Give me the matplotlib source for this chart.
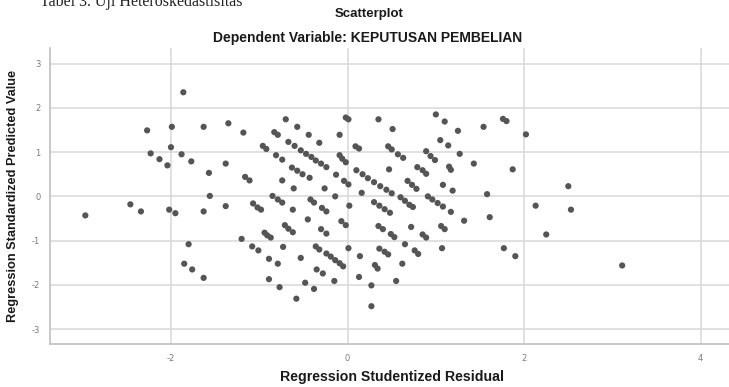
import matplotlib
matplotlib.use("Agg")
import matplotlib.pyplot as plt

plt.rcParams["axes.unicode_minus"] = False

# Regression Studentized Residual (x) and Regression Standardized Predicted Value (y)
residual = [
    -2.97, -2.46, -2.34, -2.27, -2.23, -2.13, -2.04, -2.00, -1.99, -1.88,
    -1.86, -1.77, -1.63, -1.63, -1.63, -1.85, -1.76, -1.80, -1.57, -1.56,
    -1.38, -1.38, -1.35, -1.18, -1.20, -1.16, -1.11, -1.08, -1.01, -2.02,
    -1.95, -1.07, -1.02, -0.98, -0.96, -0.92, -0.83, -0.79, -0.70, -0.57,
    -0.44, -0.32, -0.09, -0.02, 0.01, -0.67, -0.60, -0.81, -0.74,
    -0.53, -0.47, -0.41, -0.36, -0.30, -0.24, -0.09, -0.06, -0.02, 0.09, 0.13,
    -0.63, -0.57, -0.51, -0.43, -0.74, -0.61, -0.26, -0.13, -0.04, 0.01, 0.16,
    -0.85, -0.79, -0.74, -0.62, -0.42, -0.38, -0.29, -0.24, -0.14, 0.02, -0.45,
    -0.07, -0.02, -0.71, -0.67, -0.62, -0.30, -0.24, -0.94, -0.91, -0.87,
    -0.73, -0.36, -0.32, -0.24, -0.19, -0.14, -0.09, -0.05, 0.01, -0.89, -0.79,
    -0.53, -0.89, -0.77, -0.48, -0.38, -0.15, -0.58, -0.35, -0.28,
    0.10, 0.17, 0.23, 0.30, 0.37, 0.44, 0.50, 0.35, 0.51, 0.46, 0.50, 0.57, 0.63,
    0.47, 1.00, 1.10, 1.25, 1.54, 1.76, 1.80, 2.02, 1.05, 1.14, 1.27, 1.43, 1.87,
    0.89, 0.94, 0.99, 1.15, 1.17, 0.79, 0.85, 0.89, 0.68, 0.73, 0.78, 1.08, 1.19,
    1.58, 0.30, 0.36, 0.42, 0.48, 0.60, 0.65, 0.70, 0.74, 0.91, 0.96, 1.02, 1.08,
    1.17, 1.32, 1.61, 0.35, 0.40, 0.49, 0.53, 0.72, 0.85, 0.89, 1.06, 1.10, 0.65,
    0.36, 0.42, 0.46, 0.76, 0.80, 1.07, 0.14, 0.31, 0.34, 0.62, 0.13, 0.27, 0.55,
    0.27, 2.50, 2.13, 2.53, 2.25, 1.77, 1.90, 3.11,
]
predicted = [
    -0.43, -0.18, -0.34, 1.49, 0.97, 0.84, 0.70, 1.11, 1.57, 0.95,
    2.35, 0.79, 1.57, -0.34, -1.84, -1.52, -1.65, -1.08, 0.53, 0.01,
    0.74, -0.22, 1.65, 1.44, -0.96, 0.44, 0.36, -1.13, -1.22, -0.30,
    -0.38, -0.16, -0.25, -0.30, 1.14, 1.07, 1.45, 1.39, 1.74, 1.57,
    1.39, 1.21, 1.39, 1.78, 1.74, 1.23, 1.14, 0.93, 0.83,
    1.04, 0.96, 0.89, 0.81, 0.74, 0.66, 0.93, 0.85, 0.77, 1.13, 1.08,
    0.65, 0.58, 0.50, 0.42, 0.36, 0.18, 0.18, 0.49, 0.35, 0.27, 0.08,
    0.01, -0.07, -0.14, -0.30, -0.07, -0.14, -0.26, -0.34, 0.00, -0.21, -0.52,
    -0.56, -0.65, -0.65, -0.73, -0.81, -0.74, -0.84, -0.82, -0.88, -0.93,
    -1.14, -1.13, -1.20, -1.29, -1.36, -1.44, -1.51, -1.58, -1.17, -1.41, -1.52,
    -1.39, -1.87, -2.05, -1.95, -2.09, -1.91, -2.31, -1.65, -1.74,
    0.59, 0.50, 0.41, 0.32, 0.23, 0.15, 0.07, 1.74, 1.52, 1.13, 1.06, 0.95, 0.87,
    0.61, 1.85, 1.69, 1.48, 1.57, 1.75, 1.70, 1.40, 1.27, 1.15, 0.96, 0.74, 0.61,
    1.02, 0.91, 0.82, 0.67, 0.60, 0.66, 0.59, 0.51, 0.35, 0.26, 0.17, 0.26, 0.13,
    0.05, -0.13, -0.21, -0.29, -0.37, -0.02, -0.10, -0.19, -0.24, 0.00, -0.07, -0.15, -0.23,
    -0.35, -0.55, -0.47, -0.67, -0.74, -0.85, -0.92, -0.69, -0.86, -0.93, -0.67, -0.74, -1.08,
    -1.18, -1.25, -1.31, -1.22, -1.30, -1.17, -1.35, -1.55, -1.63, -1.52, -1.82, -2.01, -1.91,
    -2.48, 0.23, -0.21, -0.30, -0.86, -1.17, -1.35, -1.56,
]

x_ticks = [-2, 0, 2, 4]
y_ticks = [-3, -2, -1, 0, 1, 2, 3]

W, H = 729, 387
fig = plt.figure(figsize=(W / 100, H / 100), dpi=100)
fig.patch.set_facecolor("white")

ax = fig.add_axes([50 / W, (H - 344.3) / H, (W - 50) / W, (344.3 - 48) / H])
ax.set_xlim(-3.37, 4.32)
ax.set_ylim(-3.34, 3.35)

ax.set_xticks(x_ticks)
ax.set_yticks(y_ticks)
ax.grid(True, color="#d8d8d8", linewidth=1.1)
ax.set_axisbelow(True)

for side in ["top", "right"]:
    ax.spines[side].set_visible(False)
for side in ["left", "bottom"]:
    ax.spines[side].set_color("#c4c4c4")
    ax.spines[side].set_linewidth(1.3)

ax.tick_params(length=0, labelsize=6, labelcolor="#7a7a7a", pad=7)

ax.scatter(residual, predicted, s=20, color="#555555", edgecolors="none", zorder=3)

ax.set_xlabel("Regression Studentized Residual", fontsize=10.2, fontweight="bold",
              family="Liberation Sans", color="#1a1a1a")
ax.xaxis.set_label_coords((392 - 50) / (W - 50), -(377 - 344.3) / (344.3 - 48), transform=ax.transAxes)
ax.xaxis.label.set_va("center")
ax.set_ylabel("Regression Standardized Predicted Value", fontsize=9.2, fontweight="bold",
              family="Liberation Sans", color="#1a1a1a")
ax.yaxis.set_label_coords(-(50 - 13) / (W - 50), 0.5, transform=ax.transAxes)
ax.yaxis.label.set_va("center")

fig.text(369 / W, 1 - 14 / H, "Scatterplot", ha="center", va="center",
         fontsize=9.5, fontweight="bold", family="Liberation Sans", color="#1a1a1a")
fig.text(368 / W, 1 - 38 / H, "Dependent Variable: KEPUTUSAN PEMBELIAN", ha="center",
         va="center", fontsize=10, fontweight="bold", family="Liberation Sans", color="#1a1a1a")
fig.text(40 / W, 1 - 6 / H, "Tabel 3. Uji Heteroskedastisitas", ha="left", va="baseline",
         fontsize=11.5, family="Liberation Serif", color="#222222")

fig.savefig("out.png", dpi=100, facecolor="white")
